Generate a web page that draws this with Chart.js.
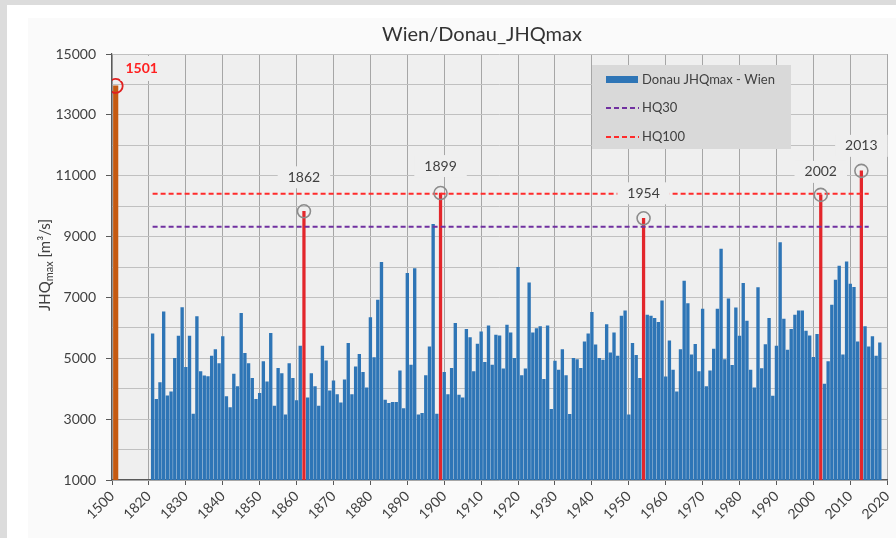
<!DOCTYPE html>
<html>
<head>
<meta charset="utf-8">
<script src="https://cdn.jsdelivr.net/npm/chart.js@4.4.1/dist/chart.umd.min.js"></script>
<style>
  html, body { margin: 0; padding: 0; background: #dcdcdc; }
  #wrap { width: 896px; height: 538px; }
</style>
</head>
<body>
<div id="wrap"><canvas id="canvas" width="896" height="538"></canvas></div>
<script>
// yearly maximum discharge, Danube at Vienna, 1821..2018 (m3/s)
var flowStart = 1821;
var flows = [
  5800, 3650, 4200, 6530, 3770, 3900, 5000, 5730, 6670, 4700,   // 1821-1830
  5730, 3170, 6370, 4560, 4420, 4400, 5070, 5290, 4830, 5710,   // 1831-1840
  3740, 3380, 4480, 4070, 6480, 5160, 4830, 4340, 3650, 3850,   // 1841-1850
  4890, 4230, 5820, 3430, 4670, 4500, 3140, 4830, 4340, 3610,   // 1851-1860
  5400, 9830, 3700, 4500, 4070, 3430, 5400, 4920, 3930, 4260,   // 1861-1870
  3810, 3540, 4290, 5490, 3810, 4720, 5130, 4540, 4030, 6340,   // 1871-1880
  5020, 6910, 8150, 3630, 3520, 3550, 3550, 4590, 3350, 7790,   // 1881-1890
  4780, 7950, 3140, 3190, 4430, 5380, 9400, 3170, 10430, 4540,  // 1891-1900
  3810, 4670, 6150, 3790, 3700, 5950, 5680, 4560, 5470, 5870,   // 1901-1910
  4870, 6070, 4780, 5760, 5740, 4650, 6090, 5840, 5000, 7990,   // 1911-1920
  4430, 4650, 7480, 5840, 5980, 6040, 4310, 6070, 3320, 4910,   // 1921-1930
  4610, 5290, 4430, 3160, 5000, 4960, 4670, 5540, 5800, 6510,   // 1931-1940
  5440, 5000, 4940, 6110, 5180, 5840, 5070, 6390, 6560, 3140,   // 1941-1950
  5490, 5100, 4340, 9600, 6420, 6390, 6310, 6180, 6890, 4390,   // 1951-1960
  5570, 4610, 3900, 5290, 7540, 6800, 5110, 5460, 4560, 6620,   // 1961-1970
  4070, 4590, 5300, 6620, 8590, 4960, 6950, 4770, 6660, 5730,   // 1971-1980
  7460, 6220, 4610, 4030, 7320, 4660, 5450, 6310, 3760, 5400,   // 1981-1990
  8800, 6290, 5270, 5950, 6420, 6560, 6560, 5890, 5740, 5030,   // 1991-2000
  5790, 10370, 4150, 4890, 6750, 7570, 8030, 5110, 8170, 7440,  // 2001-2010
  7330, 5540, 11160, 6040, 5380, 5710, 5070, 5510               // 2011-2018
];
var highlightYears = [1862, 1899, 1954, 2002, 2013];
var labelDy = [-34, -27, -25, -23, -25];
var histYear = 1501;
var histFlow = 13950;

var seriesName = "Donau JHQmax - Wien";
var hqNames = ["HQ30", "HQ100"];
var hqValues = [9320, 10410];
var hqColors = ["#7030a0", "#ff2b2b"];
var hqYears = [1821, 2015];

var xTicks = ["1500", "1820", "1830", "1840", "1850", "1860", "1870", "1880", "1890", "1900", "1910",
              "1920", "1930", "1940", "1950", "1960", "1970", "1980", "1990", "2000", "2010", "2020"];
var yTicks = [1000, 3000, 5000, 7000, 9000, 11000, 13000, 15000];

// broken axis: 1500-1510 squeezed in front of 1820
function pos(year) {
  return year < 1820 ? year - 1500 : year - 1810;
}

var blueData = [], redData = [];
flows.forEach(function(v, i) {
  var yr = flowStart + i;
  var pt = {x: pos(yr), y: v};
  if (highlightYears.indexOf(yr) >= 0) redData.push(pt); else blueData.push(pt);
});
var peakPoints = highlightYears.map(function(yr) {
  return {x: pos(yr), y: flows[yr - flowStart]};
});

var plotBg = "#efefef";
var textCol = "#404040";
Chart.defaults.font.family = "Lato";

var decor = {
  id: "decor",
  beforeDraw: function(chart) {
    var c = chart.ctx, a = chart.chartArea;
    c.save();
    c.fillStyle = "#dcdcdc";
    c.fillRect(0, 0, chart.width, chart.height);
    c.fillStyle = "#ffffff";
    c.fillRect(7, 5, chart.width, chart.height);
    c.fillStyle = "#fafafa";
    c.fillRect(28, 18, chart.width, chart.height);
    c.fillStyle = plotBg;
    c.fillRect(a.left, a.top, a.right - a.left, a.bottom - a.top);
    c.restore();
  },
  afterDatasetsDraw: function(chart) {
    var c = chart.ctx;
    var xs = chart.scales.x, ys = chart.scales.y;
    c.save();
    c.textAlign = "center";
    c.textBaseline = "middle";
    c.font = "14px Lato";
    highlightYears.forEach(function(yr, i) {
      var px = xs.getPixelForValue(pos(yr));
      var py = ys.getPixelForValue(flows[yr - flowStart]) + labelDy[i];
      var t = String(yr);
      var w = c.measureText(t).width;
      c.fillStyle = plotBg;
      c.fillRect(px - w / 2 - 10, py - 11, w + 20, 22);
      c.fillStyle = textCol;
      c.fillText(t, px, py);
    });
    // historic flood label
    var hx = xs.getPixelForValue(pos(histYear)) + 26;
    var hy = ys.getPixelForValue(histFlow) - 17;
    c.font = "bold 14px Lato";
    var hw = c.measureText(String(histYear)).width;
    c.fillStyle = plotBg;
    c.fillRect(hx - hw / 2 - 5, hy - 13, hw + 10, 25);
    c.fillStyle = "#ff2020";
    c.fillText(String(histYear), hx, hy);
    c.restore();
  },
  afterDraw: function(chart) {
    var c = chart.ctx;
    c.save();
    // title
    c.fillStyle = "#333333";
    c.font = "20px Lato";
    c.textAlign = "center";
    c.textBaseline = "middle";
    c.fillText("Wien/Donau_JHQmax", 482, 35);

    // y axis title with subscript
    c.translate(45, 265);
    c.rotate(-Math.PI / 2);
    c.textAlign = "left";
    c.textBaseline = "alphabetic";
    c.font = "15px Lato";
    var w1 = c.measureText("JHQ").width;
    var w3 = c.measureText(" [m\u00b3/s]").width;
    c.font = "11px Lato";
    var w2 = c.measureText("max").width;
    var x0 = -(w1 + w2 + w3) / 2;
    c.fillStyle = textCol;
    c.font = "15px Lato";
    c.fillText("JHQ", x0, 5);
    c.font = "11px Lato";
    c.fillText("max", x0 + w1, 8);
    c.font = "15px Lato";
    c.fillText(" [m\u00b3/s]", x0 + w1 + w2, 5);
    c.setTransform(1, 0, 0, 1, 0, 0);

    // legend
    c.fillStyle = "#d9d9d9";
    c.fillRect(592, 65, 199, 84);
    c.fillStyle = "#2e75b6";
    c.fillRect(606, 76, 32, 7);
    c.font = "13px Lato";
    c.textBaseline = "middle";
    c.fillStyle = textCol;
    c.fillText(seriesName, 642, 80);
    hqNames.forEach(function(n, i) {
      var ly = 108 + i * 29;
      c.strokeStyle = hqColors[i];
      c.lineWidth = 2;
      c.setLineDash([5, 3]);
      c.beginPath();
      c.moveTo(606, ly);
      c.lineTo(639, ly);
      c.stroke();
      c.setLineDash([]);
      c.fillStyle = textCol;
      c.fillText(n, 642, ly);
    });
    c.restore();
  }
};

function hqLine(i) {
  return {
    type: "line",
    label: hqNames[i],
    data: hqYears.map(function(yr) { return {x: pos(yr), y: hqValues[i]}; }),
    borderColor: hqColors[i],
    borderWidth: 2,
    borderDash: [5, 3],
    pointRadius: 0,
    fill: false,
    order: 2
  };
}

new Chart(document.getElementById("canvas"), {
  type: "bar",
  data: {
    datasets: [
      {
        label: seriesName,
        data: blueData,
        backgroundColor: "#2e75b6",
        barThickness: 2.7,
        grouped: false,
        order: 3
      },
      {
        label: "peaks",
        data: redData,
        backgroundColor: "#e3262b",
        barThickness: 2.6,
        grouped: false,
        order: 3
      },
      {
        label: "1501",
        data: [{x: pos(histYear), y: histFlow}],
        backgroundColor: "#c55a11",
        barThickness: 4.5,
        grouped: false,
        order: 3
      },
      hqLine(0),
      hqLine(1),
      {
        type: "line",
        label: "circles",
        data: peakPoints,
        showLine: false,
        pointRadius: 6.5,
        pointBorderWidth: 1.6,
        pointBorderColor: "#8c8c8c",
        pointBackgroundColor: "rgba(0,0,0,0)",
        order: 1
      },
      {
        type: "line",
        label: "circle1501",
        data: [{x: pos(histYear), y: histFlow}],
        showLine: false,
        pointRadius: 7,
        pointBorderWidth: 1.8,
        pointBorderColor: "#e02020",
        pointBackgroundColor: "rgba(0,0,0,0)",
        order: 1
      }
    ]
  },
  options: {
    responsive: false,
    animation: false,
    layout: { padding: { top: 54, right: 3, left: 0, bottom: 0 } },
    plugins: {
      legend: { display: false },
      title: { display: false },
      tooltip: { enabled: false }
    },
    scales: {
      x: {
        type: "linear",
        min: 0,
        max: 210,
        offset: false,
        grid: { offset: false, color: "#a6a6a6", tickColor: "#595959", tickLength: 5 },
        border: { color: "#595959", width: 1.2 },
        ticks: {
          stepSize: 10,
          autoSkip: false,
          maxRotation: 45,
          minRotation: 45,
          color: textCol,
          font: { size: 14 },
          callback: function(v) { return xTicks[Math.round(v / 10)]; }
        },
        afterFit: function(s) {
          s.height = 58;
          s.paddingLeft = 0;
          s.paddingRight = 0;
        }
      },
      y: {
        min: 1000,
        max: 15000,
        grid: {
          color: "#c0c0c0",
          tickLength: 6,
          tickColor: function(ctx) {
            return ctx.tick && yTicks.indexOf(ctx.tick.value) >= 0 ? "#595959" : "rgba(0,0,0,0)";
          }
        },
        border: { color: "#595959", width: 1.2 },
        ticks: {
          stepSize: 1000,
          padding: 10,
          color: textCol,
          font: { size: 14 },
          callback: function(v) { return yTicks.indexOf(v) >= 0 ? String(v) : ""; }
        },
        afterFit: function(s) {
          s.width = 112;
          s.paddingTop = 0;
          s.paddingBottom = 0;
        }
      }
    }
  },
  plugins: [decor]
});
</script>
</body>
</html>
